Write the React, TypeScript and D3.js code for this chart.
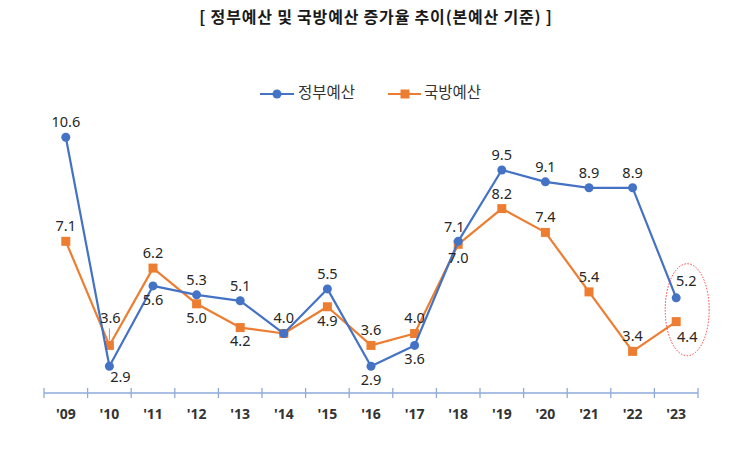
import React from 'react';
import * as d3 from 'd3';

const years = ["'09", "'10", "'11", "'12", "'13", "'14", "'15", "'16", "'17", "'18", "'19", "'20", "'21", "'22", "'23"];
const govBudget = [10.6, 2.9, 5.6, 5.3, 5.1, 4.0, 5.5, 2.9, 3.6, 7.1, 9.5, 9.1, 8.9, 8.9, 5.2];
const defBudget = [7.1, 3.6, 6.2, 5.0, 4.2, 4.0, 4.9, 3.6, 4.0, 7.0, 8.2, 7.4, 5.4, 3.4, 4.4];
const seriesNames = ['정부예산', '국방예산'];
const title = '[ 정부예산 및 국방예산 증가율 추이(본예산 기준) ]';

// label placement: a = above, b = below, n = none, others are special cases
const govPlace = ['a', 'b2', 'b', 'a', 'a', 'a', 'a', 'b', 'b', 'al', 'a', 'a', 'a', 'a', 'ar'];
const defPlace = ['a', 'lead', 'a', 'b', 'b', 'n', 'b', 'a', 'a', 'b', 'a', 'a', 'a', 'a', 'br'];

const BLUE = '#4472C4';
const ORANGE = '#ED7D31';
const numFont = '"Noto Sans", "Open Sans", sans-serif';
const krFont = '"Noto Sans CJK KR", "Noto Sans", sans-serif';

const width = 733;
const height = 454;
const margin = { left: 44, right: 35 };
const axisY = 393;

const offsets: Record<string, [number, number]> = {
  a: [0, -14],
  b: [0, 15],
  b2: [11, 12],
  al: [-4, -13],
  ar: [10, -16],
  br: [11, 16],
  lead: [1, -26],
};

export default function App() {
  const x = d3
    .scaleBand<string>()
    .domain(years)
    .range([margin.left, width - margin.right])
    .padding(0);

  const y = d3.scaleLinear().domain([2, 12]).range([axisY, 95.6]);

  const cx = (i: number) => (x(years[i]) as number) + x.bandwidth() / 2;

  const line = d3
    .line<number>()
    .x((_, i) => cx(i))
    .y((d) => y(d));

  const ticks = d3.range(years.length + 1).map((i) => margin.left + i * x.bandwidth());
  const last = years.length - 1;

  const renderLabels = (vals: number[], place: string[], key: string) =>
    vals.map((v, i) => {
      const p = place[i];
      if (p === 'n') return null;
      const [dx, dy] = offsets[p];
      return (
        <g key={key + i}>
          {p === 'lead' && (
            <line x1={cx(i)} x2={cx(i)} y1={y(v) - 17} y2={y(v) - 5} stroke="#999" strokeWidth={1} />
          )}
          <text
            x={cx(i) + dx}
            y={y(v) + dy}
            textAnchor="middle"
            dominantBaseline="middle"
            fontFamily={numFont}
            fontSize={14.5}
            fill="#262626"
          >
            {v.toFixed(1)}
          </text>
        </g>
      );
    });

  return (
    <svg
      width={width}
      height={height}
      viewBox={`0 0 ${width} ${height}`}
      style={{ position: 'absolute', left: 0, top: 0, background: '#fff' }}
    >
      <text
        x={376}
        y={19}
        textAnchor="middle"
        dominantBaseline="middle"
        fontFamily={krFont}
        fontWeight="bold"
        fontSize={16}
        letterSpacing={0.8}
        fill="#1a1a1a"
      >
        {title}
      </text>

      {/* legend */}
      <g>
        <line x1={260} x2={294} y1={94} y2={94} stroke={BLUE} strokeWidth={2.2} />
        <circle cx={277} cy={94} r={4.5} fill={BLUE} />
        <text x={298} y={94} dominantBaseline="middle" fontFamily={krFont} fontSize={15.5} fill="#333">
          {seriesNames[0]}
        </text>
        <line x1={388} x2={421} y1={94} y2={94} stroke={ORANGE} strokeWidth={2.2} />
        <rect x={400.5} y={89.5} width={9} height={9} fill={ORANGE} />
        <text x={424} y={94} dominantBaseline="middle" fontFamily={krFont} fontSize={15.5} fill="#333">
          {seriesNames[1]}
        </text>
      </g>

      {/* x axis */}
      <line x1={margin.left} x2={width - margin.right} y1={axisY} y2={axisY} stroke="#8FAADC" strokeWidth={1.3} />
      {ticks.map((t, i) => (
        <line key={'t' + i} x1={t} x2={t} y1={axisY - 5} y2={axisY + 5} stroke="#8FAADC" strokeWidth={1.3} />
      ))}
      {years.map((yr, i) => (
        <text
          key={yr}
          x={cx(i)}
          y={415}
          textAnchor="middle"
          dominantBaseline="middle"
          fontFamily={numFont}
          fontWeight="bold"
          fontSize={14}
          fill="#333"
        >
          {yr}
        </text>
      ))}

      {/* series */}
      <path d={line(defBudget) as string} fill="none" stroke={ORANGE} strokeWidth={2.2} strokeLinejoin="round" />
      {defBudget.map((v, i) => (
        <rect key={'d' + i} x={cx(i) - 4.5} y={y(v) - 4.5} width={9} height={9} fill={ORANGE} />
      ))}
      <path d={line(govBudget) as string} fill="none" stroke={BLUE} strokeWidth={2.2} strokeLinejoin="round" />
      {govBudget.map((v, i) => (
        <circle key={'g' + i} cx={cx(i)} cy={y(v)} r={4.5} fill={BLUE} />
      ))}

      {renderLabels(govBudget, govPlace, 'gl')}
      {renderLabels(defBudget, defPlace, 'dl')}

      {/* highlight on the latest year */}
      <ellipse
        cx={cx(last) + 11}
        cy={(y(govBudget[last]) + y(defBudget[last])) / 2}
        rx={22}
        ry={46}
        fill="none"
        stroke="#FF3B3B"
        strokeWidth={1}
        strokeDasharray="1.5 1.5"
      />
    </svg>
  );
}
